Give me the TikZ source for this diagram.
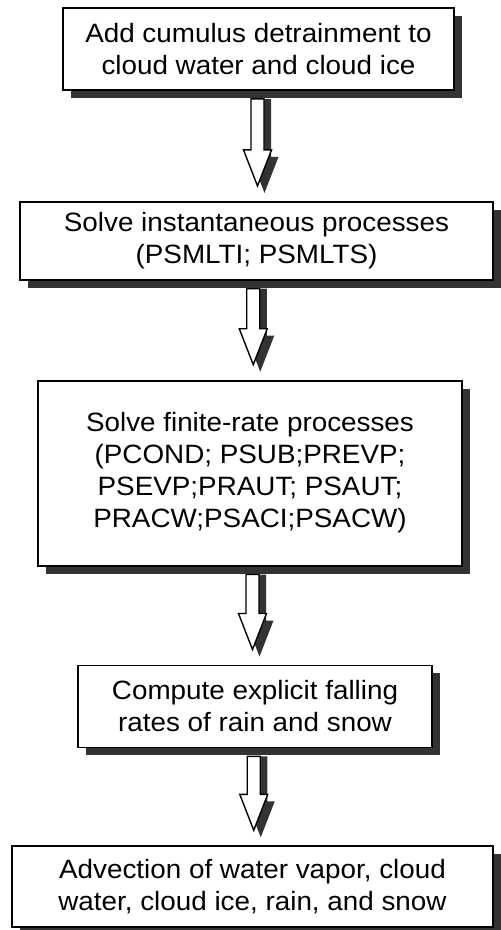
\documentclass[tikz,border=0pt]{standalone}
\usepackage{fontspec}
\setmainfont{Liberation Sans}[FakeStretch=1.05]
\usepackage{tikz}
\usetikzlibrary{positioning, calc, shadows}

% hollow block arrow with a dark shadow, from one box down to the next
\newcommand{\blockarrow}[2]{%
  \fill[arrshadow] let \p1=(#1.south), \p2=(#2.north), \p3=($(#1.south)!.5!(#2.north)$) in
    (\x3+.5pt,\y1-8pt) -- (\x3+.5pt,\y2+44pt) -- (\x3-7pt,\y2+44pt) -- (\x3+7pt,\y2+8pt)
    -- (\x3+21pt,\y2+44pt) -- (\x3+13.5pt,\y2+44pt) -- (\x3+13.5pt,\y1-8pt) -- cycle;
  \draw[arrbody] let \p1=(#1.south), \p2=(#2.north), \p3=($(#1.south)!.5!(#2.north)$) in
    (\x3-6.5pt,\y1-8pt) -- (\x3-6.5pt,\y2+51pt) -- (\x3-14pt,\y2+51pt) -- (\x3,\y2+15pt)
    -- (\x3+14pt,\y2+51pt) -- (\x3+6.5pt,\y2+51pt) -- (\x3+6.5pt,\y1-8pt) -- cycle;
}

\begin{document}
\begin{tikzpicture}[
    box/.style={draw, line width=1.8pt, fill=white, align=center, inner sep=0pt,
        font={\fontsize{26.5pt}{32pt}\selectfont},
        drop shadow={shadow xshift=8pt, shadow yshift=-8pt, fill=black!80, opacity=1}},
    arrshadow/.style={fill=black!80},
    arrbody/.style={draw, fill=white, line width=1.4pt, line join=miter},
]
\useasboundingbox (0,0) rectangle (501pt,-930pt);

\node[box, minimum width=391pt, minimum height=82pt] (detrain) at (258.5pt,-49pt) {Add cumulus detrainment to\\cloud water and cloud ice};
\node[box, minimum width=473pt, minimum height=78pt, below=110pt of detrain, xshift=-2pt] (instant) {Solve instantaneous processes\\(PSMLTI; PSMLTS)};
\node[box, minimum width=424pt, minimum height=185pt, below=99pt of instant, xshift=-6.5pt] (finite) {Solve finite-rate processes\\(PCOND; PSUB;PREVP;\\PSEVP;PRAUT; PSAUT;\\PRACW;PSACI;PSACW)};
\node[box, minimum width=354pt, minimum height=82pt, below=98pt of finite, xshift=5pt] (falling) {Compute explicit falling\\rates of rain and snow};
\node[box, minimum width=481pt, minimum height=81pt, below=97pt of falling, xshift=-2.5pt] (advect) {Advection of water vapor, cloud\\water, cloud ice, rain, and snow};

\blockarrow{detrain}{instant}
\blockarrow{instant}{finite}
\blockarrow{finite}{falling}
\blockarrow{falling}{advect}

\end{tikzpicture}
\end{document}
